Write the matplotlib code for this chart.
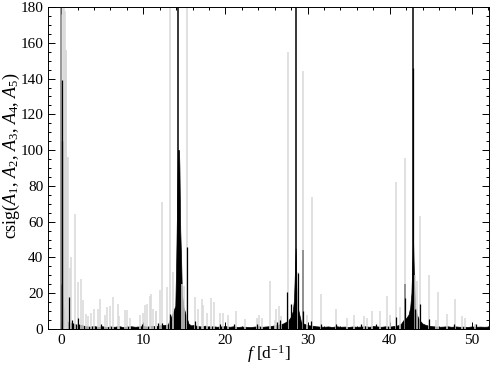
import matplotlib
matplotlib.use("Agg")
import matplotlib.pyplot as plt
from matplotlib.ticker import MultipleLocator

plt.rcParams['font.family'] = ['Liberation Serif', 'DejaVu Serif']
plt.rcParams['mathtext.fontset'] = 'custom'
plt.rcParams['mathtext.rm'] = 'Liberation Serif'
plt.rcParams['mathtext.it'] = 'Liberation Serif:italic'

# light grey spectrum: spike frequencies [1/d] and heights
grey_freq = [0.25, 0.35, 0.45, 0.55, 0.65, 0.75, 0.85, 1.05, 1.25, 1.67, 2.07, 2.4,
             2.6, 3.0, 3.3, 3.6, 3.97, 4.5, 4.78, 5.3, 5.6, 5.9, 6.3, 6.9, 7.1, 7.75,
             8.07, 8.35, 9.6, 10.0, 10.26, 10.5, 10.8, 11.0, 11.2, 11.5, 11.6, 12.0,
             12.25, 12.86, 13.26, 13.6, 14.7, 14.9, 15.3, 16.3, 16.7, 17.1, 17.3, 17.7,
             18.25, 18.65, 19.3, 19.7, 20.3, 21.3, 22.4, 23.8, 24.1, 24.4, 25.4, 26.0,
             26.2, 26.5, 26.8, 27.6, 28.8, 29.5, 29.9, 30.57, 31.6, 33.5, 34.75, 35.6,
             36.9, 37.2, 37.8, 38.8, 39.7, 40.1, 40.8, 41.2, 41.85, 43.07, 43.3, 43.75,
             44.8, 45.6, 45.9, 47.0, 47.9, 48.85, 49.15, 50.4]
grey_val = [180, 180, 178, 156, 156, 96, 96, 34, 40.5, 64, 26.5, 28,
            16, 8.4, 7, 9, 11, 11, 17, 8, 12, 13, 18, 14, 7, 10.6,
            10.5, 6, 8, 9, 13.5, 14, 18.5, 19.5, 11, 10, 10, 22,
            71, 23.5, 180, 31.6, 25, 24, 180, 17.6, 11, 17, 13.5, 9,
            17.5, 14.8, 9, 9, 8, 10, 5.5, 6.3, 7.9, 6, 27, 5,
            11, 13, 7, 154.6, 31.6, 144, 8, 73.6, 19.5, 11.4, 6.3, 7.7,
            7.3, 6, 10, 10, 18.5, 8, 82, 12.3, 95.7, 30, 27, 63.4,
            30, 5, 20.8, 8.4, 16.6, 7, 6, 3]

# darker grey spikes
dgrey_freq = [0.0, 29.5, 41.85]
dgrey_val = [180, 44, 25]

# black spectrum: noise band envelope
band_freq = [0.0, 0.1, 0.2, 0.3, 0.4, 0.5, 0.6, 0.7, 0.8, 0.9, 1.0, 1.2, 1.5, 1.8,
             2.2, 2.6, 3.0, 3.5, 4.0, 4.5, 5.0, 5.5, 6.0, 6.5, 7.0, 7.5, 8.0, 8.5,
             9.0, 9.5, 10.0, 10.5, 11.0, 11.5, 12.0, 12.5, 13.0, 13.3, 13.6, 13.9,
             14.0, 14.1, 14.2, 14.35, 14.4, 14.5, 14.6, 14.7, 14.9, 15.1, 15.3, 15.5,
             15.8, 16.2, 16.6, 17.0, 17.5, 18.0, 18.5, 19.0, 19.5, 20.0, 20.5, 21.0,
             21.5, 22.0, 22.5, 23.0, 23.5, 24.0, 24.5, 25.0, 25.5, 26.0, 26.5, 27.0,
             27.4, 27.7, 28.0, 28.2, 28.35, 28.45, 28.55, 28.65, 28.8, 29.0, 29.2,
             29.5, 29.8, 30.2, 30.6, 31.0, 31.5, 32.0, 32.5, 33.0, 33.5, 34.0, 34.5,
             35.0, 35.5, 36.0, 36.5, 37.0, 37.5, 38.0, 38.5, 39.0, 39.5, 40.0, 40.5,
             41.0, 41.4, 41.7, 42.0, 42.3, 42.5, 42.65, 42.75, 42.85, 42.95, 43.1,
             43.3, 43.6, 44.0, 44.4, 44.8, 45.2, 45.6, 46.0, 46.5, 47.0, 47.5, 48.0,
             48.5, 49.0, 49.5, 50.0, 50.5, 51.0, 51.5, 52.0]
band_val = [25, 22, 16, 12, 10, 8, 6, 4.5, 4, 3.5, 3, 3.5, 3, 2.5,
            2.5, 2, 1.5, 1.3, 1.6, 1.2, 1.5, 1.1, 1.4, 1.2, 1.6, 1.1, 1.3, 1.5,
            1.2, 1.4, 1.6, 1.3, 1.8, 1.5, 2.0, 2.2, 2.5, 6, 9, 13,
            35, 65, 100, 100, 90, 55, 40, 20, 12, 9, 6, 3,
            2, 2.2, 1.6, 1.4, 1.8, 1.3, 1.5, 1.2, 1.4, 1.6, 1.2, 1.5,
            1.1, 1.3, 1.2, 1.0, 1.3, 1.5, 1.2, 1.4, 1.6, 2.0, 2.5, 3.0,
            4, 5, 7, 10, 16, 30, 45, 25, 12, 8, 4,
            3, 2.5, 2, 1.8, 1.5, 1.3, 1.2, 1.4, 1.1, 1.5, 1.2, 1.3,
            1.1, 1.4, 1.2, 1.3, 1.5, 1.2, 1.6, 1.4, 1.2, 1.5, 1.3, 1.6,
            2.0, 3, 5, 6, 8, 12, 20, 35, 50, 30, 12,
            8, 5, 3, 2.2, 1.8, 1.5, 1.4, 1.2, 1.3, 1.5, 1.2, 1.4,
            1.2, 1.3, 1.1, 1.4, 1.2, 1.3, 1.2, 1.3]

# black individual spikes
black_freq = [0.05, 0.1, 0.97, 1.3, 2.0, 4.9, 9.8, 11.8, 12.25, 13.26, 15.3, 16.3,
              19.3, 21.0, 23.8, 26.3, 26.7, 27.5, 27.98, 28.8, 29.5, 30.4, 31.6,
              33.5, 36.5, 38.3, 40.8, 41.85, 42.8, 43.07, 43.75, 44.8, 47.8, 50.5]
black_val = [139, 105, 18, 5, 6, 3, 3, 3.5, 3.5, 8.4, 46, 4.5,
             3, 2.5, 3, 4, 5, 20.4, 14, 31, 10, 4.5, 3,
             3, 2.5, 3, 6.7, 17.5, 146, 11, 14.2, 5.8, 3, 2.5]

# main peaks (off scale)
main_freq = [14.27, 28.55, 42.86]
main_val = [200, 200, 200]

fig = plt.figure(figsize=(4.9, 3.7), dpi=100)
ax = fig.add_axes([0.098, 0.111, 0.9, 0.87])

ax.vlines(grey_freq, 0, grey_val, color='#d9d9d9', lw=1.1)
ax.vlines(dgrey_freq, 0, dgrey_val, color='#7a7a7a', lw=1.1)
ax.fill_between(band_freq, 0, band_val, color='black', lw=0.5)
ax.vlines(black_freq, 0, black_val, color='black', lw=0.9)
ax.vlines(main_freq, 0, main_val, color='black', lw=1.1)

ax.set_xlim(-1.6, 52.1)
ax.set_ylim(0, 180)
ax.xaxis.set_major_locator(MultipleLocator(10))
ax.xaxis.set_minor_locator(MultipleLocator(2))
ax.yaxis.set_major_locator(MultipleLocator(20))
ax.yaxis.set_minor_locator(MultipleLocator(5))
ax.tick_params(which='both', direction='in', top=True, right=True, labelsize=11)
ax.tick_params(which='major', length=5, width=0.7)
ax.tick_params(which='minor', length=2.5, width=0.7)
for s in ax.spines.values():
    s.set_linewidth(0.7)

ax.set_xlabel(r'$f$ [d$^{-1}$]', fontsize=12.5)
ax.xaxis.set_label_coords(0.5, -0.045)
ax.set_ylabel(r'csig($A_1$, $A_2$, $A_3$, $A_4$, $A_5$)', fontsize=13)
ax.yaxis.set_label_coords(-0.058, 0.54)

fig.savefig('out.png', dpi=100)
